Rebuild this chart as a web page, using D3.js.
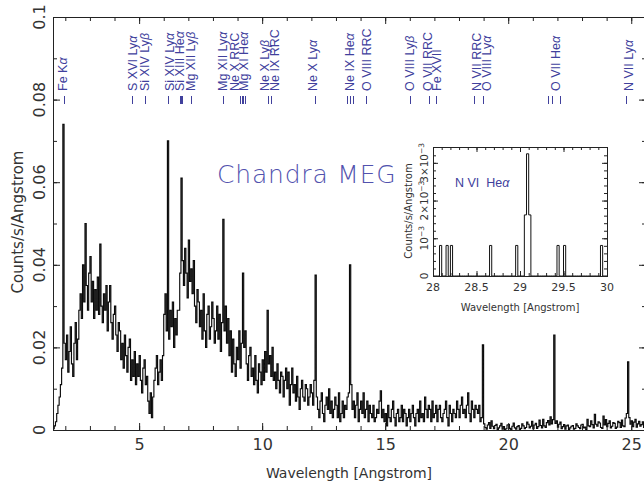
<!DOCTYPE html>
<html>
<head>
<meta charset="utf-8">
<script src="https://cdn.jsdelivr.net/npm/d3@7"></script>
<style>
  body { margin: 0; background: #fff; }
  svg { display: block; font-family: 'DejaVu Sans', sans-serif; }
</style>
</head>
<body>
<svg width="644" height="483"></svg>
<script>
(function(d3) {
    'use strict';

    // MEG spectrum: 0.05 A bins from 1.5 A, counts/s/A in units of 1e-3
    // (one row per 0.5 A)
    const binStart = 1.5;
    const binWidth = 0.05;
    const flux = [
        0.3, 1.0, 2, 4, 6, 8, 11, 15, 74, 21,
        17, 23, 14, 19, 25, 16, 13, 21, 26, 17,
        22, 29, 33, 27, 40, 31, 50, 35, 29, 38,
        42, 31, 36, 27, 34, 29, 37, 28, 45, 30,
        26, 33, 29, 35, 24, 31, 35, 26, 22, 28,
        30, 23, 19, 26, 24, 17, 21, 15, 23, 18,
        14, 20, 22, 12, 17, 13, 19, 11, 16, 13,
        18, 12, 9, 15, 17, 11, 13, 7, 4, 9,
        3, 8, 12, 15, 18, 11, 14, 17, 12, 18,
        28, 33, 24, 70, 22, 29, 25, 31, 20, 27,
        23, 29, 29, 38, 61, 41, 35, 44, 38, 32,
        46, 36, 39, 33, 41, 30, 26, 34, 31, 25,
        29, 22, 33, 24, 20, 28, 30, 22, 25, 31,
        27, 21, 24, 30, 22, 28, 19, 26, 51, 24,
        30, 21, 27, 18, 24, 14, 22, 16, 13, 20,
        17, 24, 15, 21, 38, 20, 24, 16, 12, 18,
        20, 13, 15, 11, 18, 12, 9, 16, 14, 11,
        17, 12, 19, 14, 29, 16, 18, 13, 20, 12,
        14, 10, 16, 12, 9, 14, 13, 8, 12, 15,
        10, 14, 6, 11, 15, 9, 11, 7, 13, 8,
        5, 10, 12, 8, 7, 11, 10, 6, 8, 11,
        9, 6, 12, 37.5, 8, 5, 3, 7, 9, 4,
        2, 6, 8, 5, 10, 4, 7, 3, 5, 8,
        6, 3, 9, 2, 4, 7, 3, 6, 5, 8,
        9, 40, 11, 5, 7, 3, 6, 9, 2, 5,
        7, 4, 9, 3, 5, 7, 2, 6, 4, 3,
        6, 2, 3, 5, 4, 7, 9.5, 3, 5, 2,
        4, 1, 6, 3, 2, 5, 7, 3, 1, 4,
        5, 2, 3, 6, 2, 5, 4, 1, 3, 5,
        2, 4, 6, 3, 1, 4, 5, 2, 7, 3,
        4, 2, 8, 5, 3, 6, 5, 2, 7, 3,
        4, 6, 2, 5, 6, 3, 2, 4, 5, 7,
        3, 1, 6, 4, 2, 5, 4, 3, 7, 5,
        3, 6, 8, 4, 5, 3, 6, 9, 4, 2,
        7, 5, 3, 6, 5, 4, 6, 2, 3, 20.6,
        1.5, 0.6, 0.2, 1.2, 1.8, 0.4, 2.2, 0.9, 0.3, 1.1,
        1.4, 0.0, 0.5, 1.0, 1.6, 0.2, 0.8, 0.0, 0.3, 1.2,
        1.3, 0.4, 0.0, 0.9, 1.7, 0.5, 0.2, 0.8, 1.1, 0.0,
        0.4, 1.5, 1.0, 0.3, 0.6, 1.9, 1.4, 0.5, 0.9, 2.1,
        0.3, 1.2, 1.6, 0.4, 0.8, 2.4, 1.1, 0.5, 2.6, 1.0,
        0.6, 1.8, 2.3, 1.2, 3.2, 1.5, 2.5, 23.0, 1.6, 2.2,
        0.7, 1.4, 1.9, 0.3, 0.8, 1.3, 0.2, 1.0, 1.2, 0.0,
        0.5, 0.9, 1.1, 0.2, 0.4, 1.5, 1.0, 0.6, 0.3, 1.2,
        1.4, 0.5, 0.7, 0.1, 2.6, 1.0, 0.8, 2.2, 1.3, 0.5,
        3.8, 1.4, 0.9, 2.0, 1.7, 0.6, 0.4, 3.4, 1.2, 2.5,
        0.8, 1.6, 2.2, 0.5, 0.9, 1.8, 1.6, 0.4, 0.7, 2.1,
        1.8, 0.6, 2.4, 1.0, 0.8, 2.9, 4.0, 16.5, 3.0, 1.4,
        2.2, 0.8, 1.9, 2.6, 0.7, 1.5, 2.1, 0.9, 1.3, 2.0,
        0.6, 1.7
    ];

    // line identifications along the top
    const lineNames = [
        'Fe Kα', 'S XVI Lyα', 'Si XIV Lyβ', 'Si XIV Lyα', 'Si XIII Heα', 'Mg XII Lyβ',
        'Mg XII Lyα', 'Ne X RRC', 'Mg XI Heα', 'Ne X Lyβ', 'Ne IX RRC', 'Ne X Lyα',
        'Ne IX Heα', 'O VIII RRC', 'O VIII Lyβ', 'O VII RRC', 'Fe XVII', 'N VII RRC',
        'O VIII Lyα', 'O VII Heα', 'N VII Lyα'
    ];
    const lineWaves = [
        [1.94], [4.73], [5.22], [6.18], [6.65, 6.69, 6.74], [7.11],
        [8.42], [9.10], [9.17, 9.23, 9.31], [10.24], [10.37], [12.13],
        [13.45, 13.55, 13.70], [14.23], [16.00], [16.77], [17.05], [18.59],
        [18.97], [21.60, 21.80, 22.10], [24.78]
    ];
    // sideways shift of each label column, px
    const labelNudge = [-1.5, 0, 0, 1.5, -1, -1, -0.5, -6, 0, -3.5, 3.5, -2,
        0, 0, 0, -1, 1, 2.5, 3.5, 2, 3];

    // inset: N VI He-alpha, 0.025 A bins, rate in 1e-3 counts/s/A
    const insetBinWidth = 0.025;
    const insetBinLo = [28.075, 28.15, 28.2, 28.65, 28.95, 29.05, 29.075, 29.1, 29.425, 29.5, 29.925];
    const insetRate = [0.81, 0.81, 0.81, 0.81, 0.81, 1.62, 3.24, 1.62, 0.81, 0.81, 0.81];

    const xMajor = [5, 10, 15, 20, 25];
    const xMinor = d3.range(2, 26);
    const yMajor = [0, 0.02, 0.04, 0.06, 0.08, 0.1];
    const yLabels = ['0', '0.02', '0.04', '0.06', '0.08', '0.1'];
    const yMinor = d3.range(0, 0.1001, 0.01);

    const insetXMajor = [28, 28.5, 29, 29.5, 30];
    const insetXLabels = ['28', '28.5', '29', '29.5', '30'];
    const insetXMinor = d3.range(28, 30.001, 0.1);
    const insetYMajor = [0, 1e-3, 2e-3, 3e-3];
    const insetYMinor = d3.range(0, 3.4e-3, 0.2e-3);

    const blue = '#40409c';

    const svg = d3.select('svg');

    const plot = { left: 53, right: 646, top: 17, bottom: 430 };
    const x = d3.scaleLinear().domain([1.5, 25.6]).range([plot.left, plot.right]);
    const y = d3.scaleLinear().domain([0, 0.1]).range([plot.bottom, plot.top]);

    svg.append('defs').append('clipPath').attr('id', 'clip')
        .append('rect')
        .attr('x', plot.left).attr('y', plot.top)
        .attr('width', plot.right - plot.left).attr('height', plot.bottom - plot.top);

    // spectrum as a step histogram
    const pts = flux.map((v, i) => [binStart + i * binWidth, v * 1e-3]);
    pts.push([binStart + flux.length * binWidth, flux[flux.length - 1] * 1e-3]);

    const stepLine = d3.line()
        .x(d => x(d[0]))
        .y(d => y(d[1]))
        .curve(d3.curveStepAfter);

    svg.append('path')
        .attr('clip-path', 'url(#clip)')
        .attr('d', stepLine(pts))
        .attr('fill', 'none')
        .attr('stroke', '#0a0a0a')
        .attr('stroke-width', 1.15);

    // frame + inward ticks on all sides
    const tickAxis = (axis, tx, ty) => svg.append('g')
        .attr('transform', `translate(${tx},${ty})`)
        .call(axis)
        .call(g => g.select('.domain').remove())
        .call(g => g.selectAll('line').attr('stroke', '#222'));

    tickAxis(d3.axisBottom(x).tickValues(xMinor).tickSize(-4).tickSizeOuter(0).tickFormat(''), 0, plot.bottom);
    tickAxis(d3.axisTop(x).tickValues(xMinor).tickSize(-4).tickSizeOuter(0).tickFormat(''), 0, plot.top);
    tickAxis(d3.axisTop(x).tickValues(xMajor).tickSize(-7).tickSizeOuter(0).tickFormat(''), 0, plot.top);
    tickAxis(d3.axisLeft(y).tickValues(yMinor).tickSize(-4).tickSizeOuter(0).tickFormat(''), plot.left, 0);
    tickAxis(d3.axisLeft(y).tickValues(yMajor).tickSize(-7).tickSizeOuter(0).tickFormat(''), plot.left, 0);
    tickAxis(d3.axisRight(y).tickValues(yMinor).tickSize(-4).tickSizeOuter(0).tickFormat(''), plot.right, 0);
    tickAxis(d3.axisRight(y).tickValues(yMajor).tickSize(-7).tickSizeOuter(0).tickFormat(''), plot.right, 0);

    tickAxis(d3.axisBottom(x).tickValues(xMajor).tickSize(-7).tickSizeOuter(0).tickPadding(9), 0, plot.bottom)
        .call(g => g.selectAll('text')
            .attr('font-family', "'DejaVu Sans', sans-serif")
            .attr('font-size', 16)
            .attr('fill', '#333'));

    svg.append('rect')
        .attr('x', plot.left + 0.5).attr('y', plot.top + 0.5)
        .attr('width', plot.right - plot.left).attr('height', plot.bottom - plot.top)
        .attr('fill', 'none')
        .attr('stroke', '#222');

    svg.selectAll('.ylab').data(yMajor).enter().append('text')
        .attr('class', 'ylab')
        .attr('transform', d => `translate(45,${y(d)}) rotate(-90)`)
        .attr('text-anchor', 'middle')
        .attr('font-size', 16)
        .attr('fill', '#333')
        .text((d, i) => yLabels[i]);

    svg.append('text')
        .attr('x', 349)
        .attr('y', 478)
        .attr('text-anchor', 'middle')
        .attr('font-size', 14)
        .attr('fill', '#333')
        .text('Wavelength [Angstrom]');

    svg.append('text')
        .attr('transform', 'translate(23,222) rotate(-90)')
        .attr('text-anchor', 'middle')
        .attr('font-size', 15)
        .attr('fill', '#333')
        .text('Counts/s/Angstrom');

    // text with greek letters in italic
    const greekText = (sel, s) => {
        s.split(/([αβ])/).filter(p => p.length).forEach(p => {
            sel.append('tspan')
                .attr('font-style', /[αβ]/.test(p) ? 'italic' : null)
                .text(p);
        });
    };

    // line markers and labels
    const labels = svg.append('g').attr('fill', blue);
    lineNames.forEach((name, i) => {
        const waves = lineWaves[i];
        waves.forEach(w => {
            labels.append('line')
                .attr('x1', Math.round(x(w)) + 0.5).attr('x2', Math.round(x(w)) + 0.5)
                .attr('y1', 96).attr('y2', 104)
                .attr('stroke', blue)
                .attr('stroke-width', 1);
        });
        const cx = x(d3.mean(waves)) + labelNudge[i];
        const t = labels.append('text')
            .attr('transform', `translate(${cx + 4.5},91) rotate(-90)`)
            .attr('font-family', "'Liberation Sans', Arial, sans-serif")
            .attr('font-size', 12.5)
            .style('white-space', 'pre');
        greekText(t, name);
    });

    svg.append('text')
        .attr('x', 217)
        .attr('y', 183)
        .attr('font-size', 25)
        .attr('font-weight', 300)
        .attr('letter-spacing', 0.8)
        .attr('fill', '#5252ae')
        .text('Chandra MEG');

    // ---- inset ----
    const ins = { left: 433, right: 607, top: 147, bottom: 276 };
    const ix = d3.scaleLinear().domain([28, 30]).range([ins.left, ins.right]);
    const iy = d3.scaleLinear().domain([0, 3.42e-3]).range([ins.bottom, ins.top]);

    svg.append('rect')
        .attr('x', ins.left + 0.5).attr('y', ins.top + 0.5)
        .attr('width', ins.right - ins.left).attr('height', ins.bottom - ins.top)
        .attr('fill', '#fff');

    const nBins = Math.round((30 - 28) / insetBinWidth);
    const insetPts = d3.range(nBins).map(i => {
        const lo = 28 + i * insetBinWidth;
        const k = insetBinLo.findIndex(b => Math.abs(b - lo) < 1e-6);
        return [lo, k < 0 ? 0 : insetRate[k] * 1e-3];
    });
    insetPts.push([30, 0]);

    svg.append('path')
        .attr('d', d3.line().x(d => ix(d[0])).y(d => iy(d[1])).curve(d3.curveStepAfter)(insetPts))
        .attr('fill', 'none')
        .attr('stroke', '#111')
        .attr('stroke-width', 1);

    tickAxis(d3.axisBottom(ix).tickValues(insetXMinor).tickSize(-3).tickSizeOuter(0).tickFormat(''), 0, ins.bottom);
    tickAxis(d3.axisBottom(ix).tickValues(insetXMajor).tickSize(-5).tickSizeOuter(0).tickFormat(''), 0, ins.bottom);
    tickAxis(d3.axisTop(ix).tickValues(insetXMinor).tickSize(-3).tickSizeOuter(0).tickFormat(''), 0, ins.top);
    tickAxis(d3.axisTop(ix).tickValues(insetXMajor).tickSize(-5).tickSizeOuter(0).tickFormat(''), 0, ins.top);
    tickAxis(d3.axisLeft(iy).tickValues(insetYMinor).tickSize(-3).tickSizeOuter(0).tickFormat(''), ins.left, 0);
    tickAxis(d3.axisLeft(iy).tickValues(insetYMajor).tickSize(-5).tickSizeOuter(0).tickFormat(''), ins.left, 0);
    tickAxis(d3.axisRight(iy).tickValues(insetYMinor).tickSize(-3).tickSizeOuter(0).tickFormat(''), ins.right, 0);
    tickAxis(d3.axisRight(iy).tickValues(insetYMajor).tickSize(-5).tickSizeOuter(0).tickFormat(''), ins.right, 0);

    svg.append('rect')
        .attr('x', ins.left + 0.5).attr('y', ins.top + 0.5)
        .attr('width', ins.right - ins.left).attr('height', ins.bottom - ins.top)
        .attr('fill', 'none')
        .attr('stroke', '#222');

    svg.selectAll('.ixlab').data(insetXMajor).enter().append('text')
        .attr('class', 'ixlab')
        .attr('x', d => ix(d))
        .attr('y', 291)
        .attr('text-anchor', 'middle')
        .attr('font-size', 11)
        .attr('fill', '#333')
        .text((d, i) => insetXLabels[i]);

    svg.append('text')
        .attr('x', 520)
        .attr('y', 311)
        .attr('text-anchor', 'middle')
        .attr('font-size', 10)
        .attr('fill', '#333')
        .text('Wavelength [Angstrom]');

    // rotated y labels with superscripts
    const insetYParts = [['0'], ['10', '−3'], ['2×10', '−3'], ['3×10', '−3']];
    insetYMajor.forEach((v, i) => {
        const t = svg.append('text')
            .attr('transform', `translate(428,${iy(v)}) rotate(-90)`)
            .attr('text-anchor', 'middle')
            .attr('font-size', 10.5)
            .attr('fill', '#333');
        const parts = insetYParts[i];
        t.append('tspan').text(parts[0]);
        if (parts[1]) {
            t.append('tspan').attr('dy', -4).attr('font-size', 7.5).text(parts[1]);
        }
    });

    svg.append('text')
        .attr('transform', 'translate(412,211) rotate(-90)')
        .attr('text-anchor', 'middle')
        .attr('font-size', 10)
        .attr('fill', '#333')
        .text('Counts/s/Angstrom');

    const nvi = svg.append('text')
        .attr('x', 455)
        .attr('y', 187)
        .attr('font-family', "'Liberation Sans', Arial, sans-serif")
        .attr('font-size', 12.5)
        .attr('fill', blue)
        .style('white-space', 'pre');
    greekText(nvi, 'N VI  Heα');

}(d3));
</script>
</body>
</html>
